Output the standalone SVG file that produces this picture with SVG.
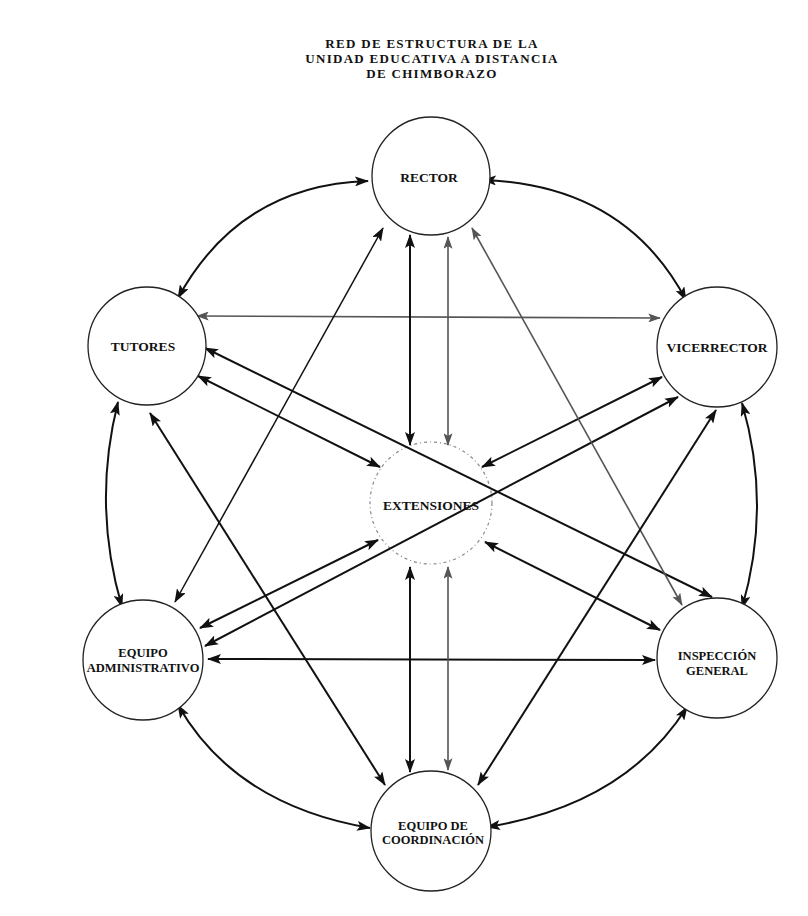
<svg xmlns="http://www.w3.org/2000/svg" width="808" height="916" viewBox="0 0 808 916">
<defs>
<marker id="ah" viewBox="0 0 14 10" refX="13" refY="5" markerWidth="14" markerHeight="10" markerUnits="userSpaceOnUse" orient="auto-start-reverse">
<path d="M0,0 L14,5 L0,10 L3,5 z" fill="#111"/>
</marker>
<marker id="ahg" viewBox="0 0 14 10" refX="13" refY="5" markerWidth="13" markerHeight="9" markerUnits="userSpaceOnUse" orient="auto-start-reverse">
<path d="M0,0 L14,5 L0,10 L3,5 z" fill="#555"/>
</marker>
</defs>
<style>
.t{font-family:"Liberation Serif","Times New Roman",serif;font-weight:bold;fill:#111;text-anchor:middle}
.title{font-size:13px;letter-spacing:1.3px}
.lbl{font-size:13.5px}
.sm{font-size:12.5px}
.node{fill:#fff;stroke:#222;stroke-width:1.3}
.ext{fill:none;stroke:#888;stroke-width:1.2;stroke-dasharray:3 3 1 3}
.c{fill:none;stroke:#111;stroke-width:2;marker-start:url(#ah);marker-end:url(#ah)}
.thin{stroke-width:1.5}
.g{fill:none;stroke:#555;stroke-width:1.6;marker-start:url(#ahg);marker-end:url(#ahg)}
</style>
<rect width="808" height="916" fill="#fff"/>
<g id="title">
<text class="t title" x="432" y="48">RED DE ESTRUCTURA DE LA</text>
<text class="t title" x="432" y="63">UNIDAD EDUCATIVA A DISTANCIA</text>
<text class="t title" x="432" y="78">DE CHIMBORAZO</text>
</g>
<g id="extensiones">
<circle class="ext" cx="431" cy="503" r="61"/>
<text class="t lbl" x="431" y="510">EXTENSIONES</text>
</g>
<g id="connectors">
<path class="c" d="M368,181 Q240,185 178,298"/>
<path class="c" d="M483,180 Q625,185 686,300"/>
<path class="c" d="M118,402 Q92,505 122,607"/>
<path class="c" d="M742,403 Q772,505 742,608"/>
<path class="c" d="M178,705 Q235,805 370,828"/>
<path class="c" d="M687,707 Q625,805 487,827"/>
<path class="g" d="M197,316 L660,318"/>
<path class="c" d="M208,659 L655,660"/>
<path class="c" d="M410,235 L410,445"/>
<path class="g" d="M448,237 L448,445"/>
<path class="c" d="M410,567 L410,772"/>
<path class="g" d="M448,567 L448,770"/>
<path class="c" d="M198,376 L380,467"/>
<path class="c" d="M662,377 L482,467"/>
<path class="c" d="M378,540 L200,628"/>
<path class="c" d="M485,542 L660,630"/>
<path class="c" d="M205,348 L712,597"/>
<path class="c" d="M678,397 L205,646"/>
<path class="c thin" d="M383,228 L175,602"/>
<path class="g" d="M472,228 L682,605"/>
<path class="c" d="M150,413 L385,785"/>
<path class="c" d="M716,410 L478,785"/>
</g>
<g id="rector">
<circle class="node" cx="431" cy="176" r="59"/>
<text class="t lbl" x="429" y="182">RECTOR</text>
</g>
<g id="tutores">
<circle class="node" cx="147" cy="346" r="59"/>
<text class="t lbl" x="143" y="351">TUTORES</text>
</g>
<g id="vicerrector">
<circle class="node" cx="717" cy="347" r="60"/>
<text class="t lbl" x="717" y="352">VICERRECTOR</text>
</g>
<g id="equipo-administrativo">
<circle class="node" cx="143" cy="660" r="60"/>
<text class="t sm" x="143" y="657">EQUIPO</text>
<text class="t sm" x="143" y="672">ADMINISTRATIVO</text>
</g>
<g id="inspeccion-general">
<circle class="node" cx="717" cy="658" r="60"/>
<text class="t sm" x="717" y="660">INSPECCIÓN</text>
<text class="t sm" x="717" y="675">GENERAL</text>
</g>
<g id="equipo-coordinacion">
<circle class="node" cx="431" cy="831" r="60"/>
<text class="t sm" x="433" y="830">EQUIPO DE</text>
<text class="t sm" x="433" y="844">COORDINACIÓN</text>
</g>
</svg>
